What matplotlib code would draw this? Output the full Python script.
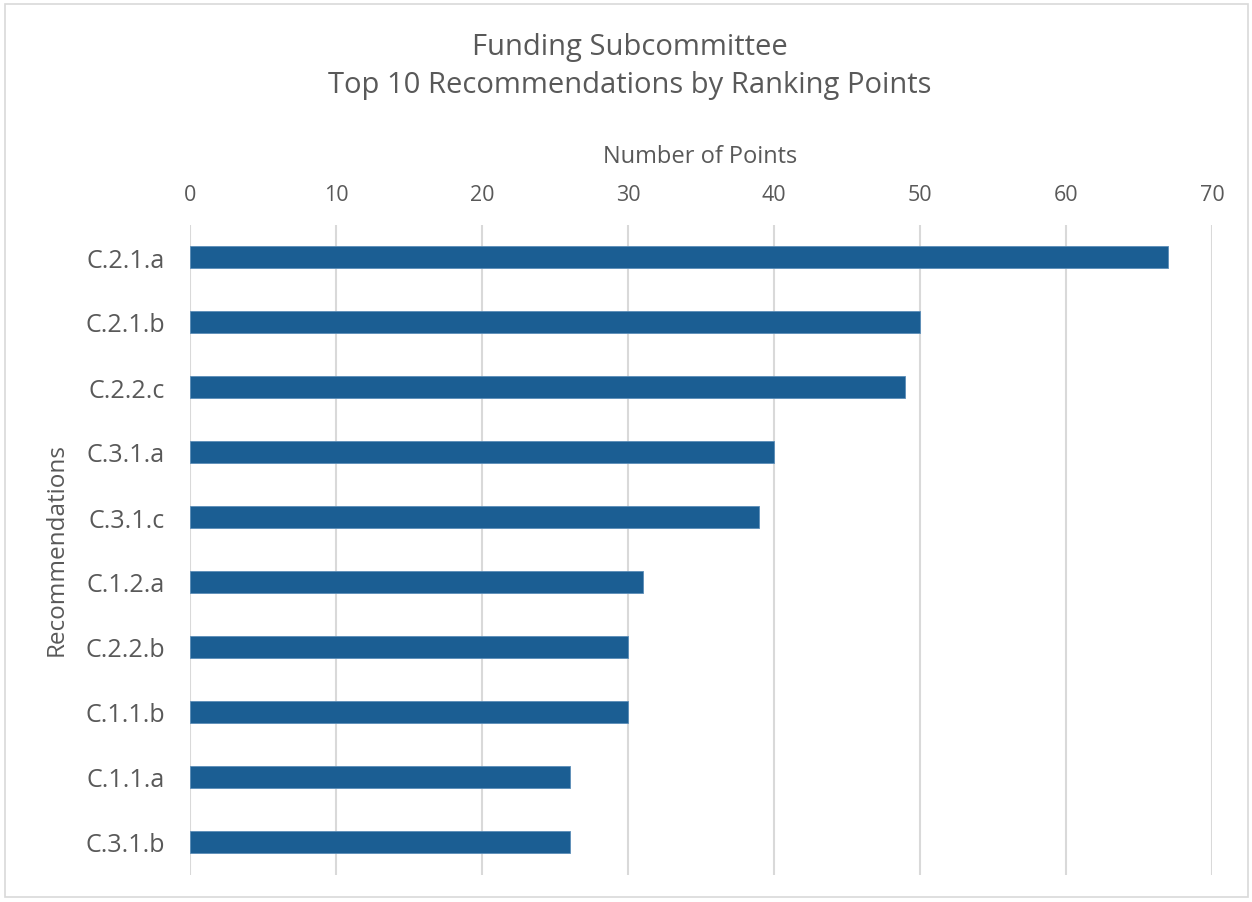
import matplotlib
matplotlib.use("Agg")
import matplotlib.pyplot as plt
from matplotlib.patches import Rectangle

categories = ["C.2.1.a", "C.2.1.b", "C.2.2.c", "C.3.1.a", "C.3.1.c",
              "C.1.2.a", "C.2.2.b", "C.1.1.b", "C.1.1.a", "C.3.1.b"]
points = [67, 50, 49, 40, 39, 31, 30, 30, 26, 26]
xticks = [0, 10, 20, 30, 40, 50, 60, 70]

plt.rcParams['font.family'] = ['Open Sans', 'DejaVu Sans']
gray = "#595959"

fig = plt.figure(figsize=(12.52, 9.03), dpi=100)
W, H = 1252, 903
ax = fig.add_axes([190 / W, 1 - 875.5 / H, (1212 - 190) / W, (875.5 - 225.5) / H])

y = list(range(len(categories)))
ax.barh(y, points, height=0.35, color="#1B5E93", edgecolor="#5B8DB8", linewidth=0.6, zorder=3)
ax.set_ylim(len(categories) - 0.5, -0.5)
ax.set_xlim(0, 70)
ax.set_yticks(y)
ax.set_yticklabels(categories, fontsize=18, color=gray)
ax.set_xticks(xticks)
ax.set_xticklabels([str(t) for t in xticks], fontsize=15.5, color=gray)
ax.xaxis.tick_top()
ax.tick_params(axis='x', length=0, pad=14)
ax.tick_params(axis='y', length=0, pad=18)
ax.grid(axis='x', color="#D9D9D9", linewidth=1.5, zorder=0)
for s in ax.spines.values():
    s.set_visible(False)

fig.text(700 / W, 1 - 157 / H, "Number of Points", fontsize=17, color=gray,
         ha='center', va='center')
fig.text(57 / W, 1 - 550 / H, "Recommendations", rotation=90, fontsize=17.5,
         color=gray, ha='center', va='center')

fig.text(630 / W, 1 - 47 / H, "Funding Subcommittee", fontsize=21, color=gray,
         ha='center', va='center')
fig.text(630 / W, 1 - 86 / H, "Top 10 Recommendations by Ranking Points", fontsize=21,
         color=gray, ha='center', va='center')

fig.patches.append(Rectangle((5 / W, 1 - 898 / H), 1243 / W, 893 / H, transform=fig.transFigure,
                             fill=False, edgecolor="#D9D9D9", linewidth=1.2))

fig.savefig("out.png", dpi=100, facecolor="white")
